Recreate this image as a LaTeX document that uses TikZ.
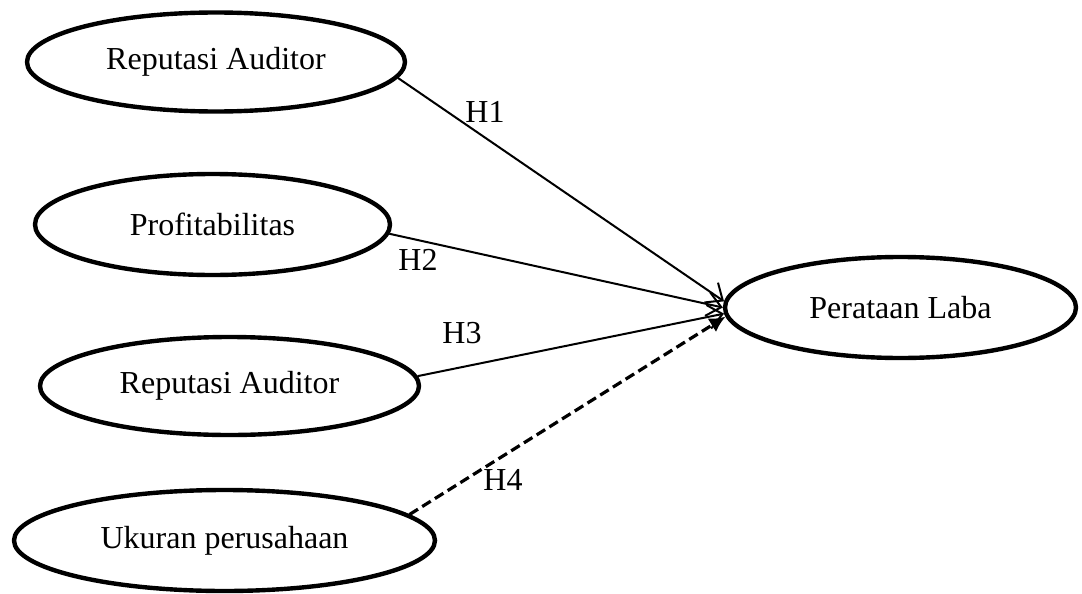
\documentclass[tikz,border=0pt]{standalone}
\usepackage{fontspec}
\setmainfont{Liberation Serif}
\usetikzlibrary{shapes.geometric}
\usetikzlibrary{arrows.meta}
\tikzset{
	konstruk/.style={ellipse, draw, line width=2.2pt, inner sep=0pt, font=\fontsize{16}{19}\selectfont},
	hipotesis/.style={font=\fontsize{16}{19}\selectfont},
	panah/.style={line width=1pt, -{Straight Barb[length=7pt,width=12pt]}},
	panahputus/.style={line width=1.6pt, dash pattern=on 5pt off 2.5pt, -{Latex[length=8pt,width=8pt]}},
}
\begin{document}
\begin{tikzpicture}[x=0.5pt,y=-0.5pt]
		\useasboundingbox (0,0) rectangle (1082,594);
		% variabel
		\node[konstruk, minimum width=189pt, minimum height=49.5pt] (ra1) at (216,62) {Reputasi Auditor};
		\node[konstruk, minimum width=177.5pt, minimum height=50.5pt] (prof) at (212.5,224.5) {Profitabilitas};
		\node[konstruk, minimum width=189.5pt, minimum height=49pt] (ra2) at (229.5,386) {Reputasi Auditor};
		\node[konstruk, minimum width=210.5pt, minimum height=50.5pt] (ukuran) at (224.5,540.5) {Ukuran perusahaan};
		\node[konstruk, minimum width=175.5pt, minimum height=50.5pt] (laba) at (900.5,307.5) {Perataan Laba};
		% hipotesis
		\draw[panah] (ra1.-5) -- (laba.178);
		\draw[panah] (prof.-3) -- (laba.180);
		\draw[panah] (ra2.3) -- (laba.182);
		\draw[panahputus] (ukuran.8) -- (laba.183);
		\node[hipotesis] (h1) at (485,112) {H1};
		\node[hipotesis] (h2) at (418,260) {H2};
		\node[hipotesis] (h3) at (462,333) {H3};
		\node[hipotesis] (h4) at (503,480) {H4};
	\end{tikzpicture}
\end{document}
